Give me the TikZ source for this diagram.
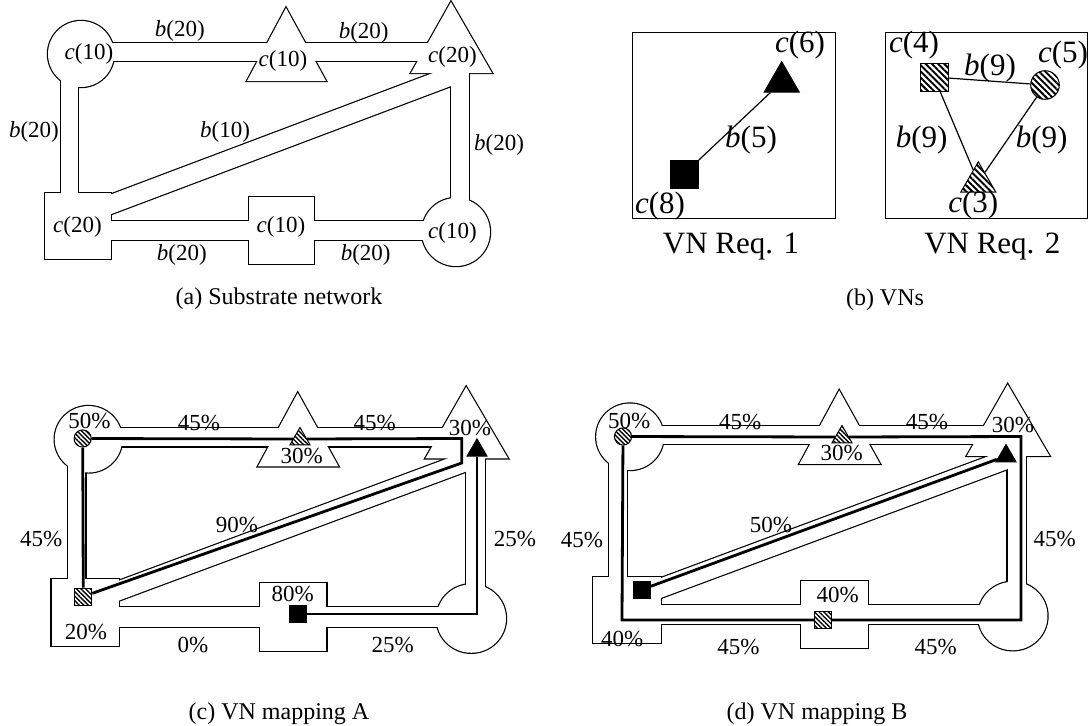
\documentclass[tikz,border=0pt]{standalone}
\usepackage{fontspec}
\setmainfont{Liberation Serif}
\usetikzlibrary{shapes.geometric,patterns.meta}

\newcommand{\bwl}[1]{\textit{b}(#1)}
\newcommand{\cpl}[1]{\textit{c}(#1)}
% pieces of the substrate outline, in panel (a) pixels
\newcommand{\substrate}[1]{%
  \path[#1] (81,54) circle[radius=33];
  \path[#1] (456,232) circle[radius=34];
  \path[#1] (286,8) -- (247,81) -- (326,81) -- cycle;
  \path[#1] (451,2) -- (411,73) -- (492,73) -- cycle;
  \path[#1] (81,43) rectangle (451,61);
  \path[#1] (61,54) rectangle (78,200);
  \path[#1] (451,70) rectangle (469,232);
  \path[#1] (105,221) rectangle (456,240);
  \path[#1] (249,197) rectangle (314,264);
  \path[#1] (45,193) rectangle (111,259);
  \path[#1] (105,196.7) -- (460,62.8) -- (460,82.6) -- (105,216.4) -- cycle;
}

\begin{document}
\begin{tikzpicture}[
    x=0.5pt, y=-0.5pt,
    lab/.style={font=\fontsize{11.5}{13}\selectfont, inner sep=0},
    big/.style={font=\fontsize{15.5}{18}\selectfont, inner sep=0},
    capt/.style={font=\fontsize{12}{14}\selectfont, inner sep=0},
    sub/.style={line width=1.2pt},
    map/.style={line width=1.4pt},
    hatch/.style={pattern={Lines[angle=-45,distance=2.2pt,line width=1pt]}},
    hatchs/.style={pattern={Lines[angle=-45,distance=1.6pt,line width=0.7pt]}},
    vsq/.style={draw, line width=0.5pt, rectangle, inner sep=0, minimum size=14pt},
    vcirc/.style={draw, line width=0.5pt, circle, inner sep=0, minimum size=14.3pt},
    vtri/.style={draw, line width=0.5pt, regular polygon, regular polygon sides=3, inner sep=0, minimum size=20.2pt},
    ssq/.style={draw, line width=0.5pt, rectangle, inner sep=0, minimum size=8.5pt},
    scirc/.style={draw, line width=0.5pt, circle, inner sep=0, minimum size=8.6pt},
    stri/.style={draw, line width=0.5pt, regular polygon, regular polygon sides=3, inner sep=0, minimum size=11.5pt}
  ]
  \useasboundingbox (0,0) rectangle (1089,725);

  % (a) substrate network
  \substrate{draw, sub}
  \substrate{fill=white}
  \node[lab] (acL) at (88.9,53.7) {\cpl{10}};
  \node[lab] (abT1) at (179.8,31) {\bwl{20}};
  \node[lab] (acT) at (283,61) {\cpl{10}};
  \node[lab] (abT2) at (363.7,33) {\bwl{20}};
  \node[lab] (acR) at (452.5,56.8) {\cpl{20}};
  \node[lab] (abL) at (34,132) {\bwl{20}};
  \node[lab] (abD) at (225,132) {\bwl{10}};
  \node[lab] (abR) at (499,144.6) {\bwl{20}};
  \node[lab] (acBL) at (77.5,227) {\cpl{20}};
  \node[lab] (acB) at (281,227) {\cpl{10}};
  \node[lab] (acBR) at (452.5,232.5) {\cpl{10}};
  \node[lab] (abB1) at (181.8,255) {\bwl{20}};
  \node[lab] (abB2) at (365.7,255) {\bwl{20}};
  \node[capt] (capA) at (279,299) {(a) Substrate network};

  % (b) VN requests
  \draw[line width=0.5pt] (632,32.7) rectangle (835,218.3);
  \draw[line width=0.5pt] (885,32.7) rectangle (1087.5,218.3);
  \node[vsq, fill=black] (r1sq) at (684,174) {};
  \node[vtri, fill=black] (r1tri) at (781.7,81.9) {};
  \draw[line width=0.6pt] (r1sq) -- (r1tri);
  \node[big] (r1c6) at (800,45) {\cpl{6}};
  \node[big] (r1b5) at (751,140) {\bwl{5}};
  \node[big] (r1c8) at (660,206) {\cpl{8}};
  \node[big] (req1) at (731,247) {VN Req. 1};
  \node[vsq, hatch] (r2sq) at (934,77) {};
  \node[vcirc, hatch] (r2circ) at (1045,85) {};
  \node[vtri, hatch] (r2tri) at (978.3,182) {};
  \draw[line width=0.6pt] (r2sq) -- (r2circ);
  \draw[line width=0.6pt] (r2sq) -- (r2tri);
  \draw[line width=0.6pt] (r2circ) -- (r2tri);
  \node[big] (r2c4) at (914,45) {\cpl{4}};
  \node[big] (r2bt) at (990,68) {\bwl{9}};
  \node[big] (r2c5) at (1063,55) {\cpl{5}};
  \node[big] (r2bl) at (921.7,140) {\bwl{9}};
  \node[big] (r2br) at (1041.7,140) {\bwl{9}};
  \node[big] (r2c3) at (973.3,205) {\cpl{3}};
  \node[big] (req2) at (992.3,247) {VN Req. 2};
  \node[capt] (capB) at (885,300) {(b) VNs};

  % (c) VN mapping A
  \begin{scope}[shift={(5.71,384.9)}, xscale=1.021, yscale=1.007]
    \substrate{draw, sub}
    \substrate{fill=white}
  \end{scope}
  \node[scirc, hatchs] (c5) at (82.7,438.5) {};
  \node[stri, hatchs] (c3) at (300,439) {};
  \node[ssq, hatchs] (c4) at (83.3,596.5) {};
  \node[stri, fill=black] (c6) at (477,450.4) {};
  \node[ssq, fill=black] (c8) at (297.9,614) {};
  \coordinate (ca) at (461.7,438.5);
  \coordinate (cb) at (461.7,463);
  \coordinate (cc) at (477,614);
  \draw[map] (c5) -- (c4);
  \draw[map] (c5) -- (c3);
  \draw[map] (c3) -- (ca) -- (cb) -- (c4);
  \draw[map] (c8) -- (cc) -- (c6);
  \node[lab] (cp50) at (89.5,421) {50\%};
  \node[lab] (cpT1) at (199,422.5) {45\%};
  \node[lab] (cpT2) at (374.7,422.5) {45\%};
  \node[lab] (cpR) at (470,428) {30\%};
  \node[lab] (cpM) at (301.7,456) {30\%};
  \node[lab] (cpL) at (41.3,539) {45\%};
  \node[lab] (cpD) at (237,524.6) {90\%};
  \node[lab] (cpRR) at (515,539) {25\%};
  \node[lab] (cpB) at (292.7,594.4) {80\%};
  \node[lab] (cpBL) at (86,632) {20\%};
  \node[lab] (cpB1) at (192.9,645.4) {0\%};
  \node[lab] (cpB2) at (392.6,645.4) {25\%};
  \node[capt] (capC) at (279,714) {(c) VN mapping A};

  % (d) VN mapping B
  \begin{scope}[shift={(547.2,382.4)}, xscale=1.021, yscale=1.007]
    \substrate{draw, sub}
    \substrate{fill=white}
  \end{scope}
  \node[scirc, hatchs] (d5) at (623,436.5) {};
  \node[stri, hatchs] (d3) at (842,437) {};
  \node[ssq, hatchs] (d4) at (822.8,620) {};
  \node[stri, fill=black] (d6) at (1006,456) {};
  \node[ssq, fill=black] (d8) at (642,589.5) {};
  \coordinate (da) at (1021,436.5);
  \coordinate (db) at (1021,620);
  \coordinate (dc) at (622,620);
  \draw[map] (d5) -- (d3);
  \draw[map] (d3) -- (da) -- (db) -- (d4);
  \draw[map] (d4) -- (dc) -- (d5);
  \draw[map] (d8) -- (d6);
  \node[lab] (dp50) at (629.3,421.3) {50\%};
  \node[lab] (dpT1) at (740.3,422.3) {45\%};
  \node[lab] (dpT2) at (926.9,422.3) {45\%};
  \node[lab] (dpR) at (1013,425) {30\%};
  \node[lab] (dpM) at (841.7,453.3) {30\%};
  \node[lab] (dpL) at (582,540.3) {45\%};
  \node[lab] (dpD) at (771,524.5) {50\%};
  \node[lab] (dpRR) at (1054.6,538.5) {45\%};
  \node[lab] (dpB) at (837.6,595) {40\%};
  \node[lab] (dpBL) at (622.3,638.8) {40\%};
  \node[lab] (dpB1) at (738.5,646.8) {45\%};
  \node[lab] (dpB2) at (935.6,646.8) {45\%};
  \node[capt] (capD) at (817,714) {(d) VN mapping B};
\end{tikzpicture}
\end{document}
